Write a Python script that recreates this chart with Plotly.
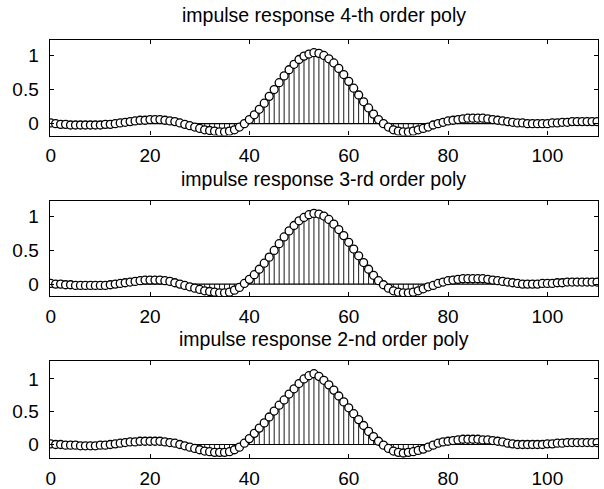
import plotly.graph_objects as go

n = list(range(0, 111))

h4 = [0.01, 0.00, -0.01, -0.01, -0.02, -0.02, -0.02, -0.02, -0.02, -0.02,
      -0.02, -0.01, -0.01, 0.00, 0.01, 0.02, 0.03, 0.04, 0.05, 0.05,
      0.06, 0.06, 0.06, 0.05, 0.04, 0.03, 0.01, -0.01, -0.03, -0.05,
      -0.07, -0.09, -0.10, -0.11, -0.12, -0.12, -0.11, -0.09, -0.05, 0.00,
      0.06, 0.13, 0.21, 0.30, 0.40, 0.50, 0.60, 0.70, 0.79, 0.87,
      0.94, 0.99, 1.02, 1.04, 1.03, 1.00, 0.95, 0.89, 0.81, 0.72,
      0.62, 0.52, 0.42, 0.32, 0.23, 0.14, 0.06, 0.00, -0.05, -0.09,
      -0.11, -0.12, -0.12, -0.11, -0.09, -0.07, -0.05, -0.02, 0.00, 0.02,
      0.04, 0.05, 0.06, 0.07, 0.08, 0.08, 0.08, 0.08, 0.07, 0.06,
      0.05, 0.04, 0.03, 0.02, 0.01, 0.01, 0.00, 0.00, 0.00, 0.00,
      0.00, 0.01, 0.01, 0.02, 0.02, 0.03, 0.03, 0.03, 0.03, 0.03, 0.03]

h3 = [0.01, 0.00, 0.00, -0.01, -0.01, -0.02, -0.02, -0.02, -0.02, -0.02,
      -0.02, -0.02, -0.01, 0.00, 0.01, 0.02, 0.03, 0.04, 0.05, 0.06,
      0.06, 0.06, 0.06, 0.05, 0.04, 0.02, 0.00, -0.02, -0.04, -0.06,
      -0.08, -0.10, -0.11, -0.12, -0.13, -0.13, -0.12, -0.09, -0.05, 0.01,
      0.07, 0.14, 0.22, 0.31, 0.40, 0.50, 0.60, 0.70, 0.79, 0.87,
      0.94, 0.99, 1.03, 1.05, 1.04, 1.01, 0.96, 0.89, 0.81, 0.72,
      0.62, 0.52, 0.42, 0.32, 0.22, 0.13, 0.05, -0.01, -0.06, -0.10,
      -0.12, -0.13, -0.13, -0.12, -0.10, -0.07, -0.04, -0.02, 0.01, 0.03,
      0.05, 0.06, 0.07, 0.08, 0.08, 0.08, 0.08, 0.08, 0.07, 0.06,
      0.05, 0.04, 0.03, 0.02, 0.01, 0.00, 0.00, 0.00, 0.00, 0.01,
      0.01, 0.01, 0.02, 0.02, 0.03, 0.03, 0.03, 0.03, 0.03, 0.03, 0.03]

h2 = [0.01, 0.00, 0.00, -0.01, -0.01, -0.01, -0.02, -0.02, -0.02, -0.02,
      -0.01, -0.01, 0.00, 0.01, 0.02, 0.03, 0.04, 0.04, 0.05, 0.05,
      0.05, 0.05, 0.05, 0.04, 0.03, 0.02, 0.00, -0.02, -0.04, -0.06,
      -0.08, -0.10, -0.11, -0.12, -0.12, -0.12, -0.11, -0.08, -0.04, 0.02,
      0.09, 0.17, 0.25, 0.33, 0.42, 0.51, 0.60, 0.68, 0.77, 0.85,
      0.93, 1.00, 1.05, 1.08, 1.04, 0.98, 0.91, 0.83, 0.74, 0.65,
      0.56, 0.47, 0.38, 0.29, 0.20, 0.12, 0.05, -0.01, -0.06, -0.10,
      -0.12, -0.13, -0.12, -0.11, -0.09, -0.07, -0.04, -0.01, 0.02, 0.04,
      0.05, 0.06, 0.07, 0.08, 0.08, 0.08, 0.08, 0.07, 0.07, 0.06,
      0.05, 0.04, 0.02, 0.01, 0.00, 0.00, 0.00, 0.00, 0.00, 0.00,
      0.01, 0.01, 0.02, 0.02, 0.03, 0.03, 0.03, 0.03, 0.03, 0.03, 0.03]

titles = ["impulse response 4-th order poly",
          "impulse response 3-rd order poly",
          "impulse response 2-nd order poly"]
series = [h4, h3, h2]

x_ticks = [0, 20, 40, 60, 80, 100]
y_ticks = [0, 0.5, 1]
y_tick_text = ["0", "0.5", "1"]

W, H = 604, 489
FONT = "Liberation Sans, Arial, sans-serif"

# pixel boxes (top, bottom) for each panel, and title centre rows
boxes = [(40, 137), (203, 299), (365, 463)]
title_rows = [15, 181, 342]
yranges = [[-0.175, 1.232], [-0.176, 1.235], [-0.21, 1.27]]
left_px, right_px = 46, 598
xrange_ = [-0.2, 110.2]

fig = go.Figure()
layout = dict(
    width=W, height=H, margin=dict(l=0, r=0, t=0, b=0),
    paper_bgcolor="white", plot_bgcolor="white", showlegend=False,
    font=dict(family=FONT, color="black"),
)
annotations = []
for i, (ys, title, (top, bot)) in enumerate(zip(series, titles, boxes)):
    k = "" if i == 0 else str(i + 1)
    xa, ya = "x" + k, "y" + k
    # stems
    sx, sy = [], []
    for xv, yv in zip(n, ys):
        sx += [xv, xv, None]
        sy += [0, yv, None]
    fig.add_trace(go.Scatter(x=sx, y=sy, mode="lines", xaxis=xa, yaxis=ya,
                             line=dict(color="black", width=0.9), hoverinfo="skip"))
    # baseline
    fig.add_trace(go.Scatter(x=[n[0], n[-1]], y=[0, 0], mode="lines", xaxis=xa, yaxis=ya,
                             line=dict(color="black", width=1.2), hoverinfo="skip"))
    # markers
    fig.add_trace(go.Scatter(x=n, y=ys, mode="markers", xaxis=xa, yaxis=ya,
                             marker=dict(symbol="circle", size=8, color="white",
                                         line=dict(color="black", width=1.3))))
    axis_common = dict(showline=True, linecolor="black", linewidth=1.2, mirror="allticks",
                       ticks="inside", ticklen=4, tickcolor="black", showgrid=False,
                       zeroline=False, tickfont=dict(family=FONT, size=19, color="black"))
    layout["xaxis" + k] = dict(domain=[left_px / W, right_px / W], range=xrange_,
                               tickvals=x_ticks, anchor=ya, ticklabelstandoff=3,
                               **axis_common)
    layout["yaxis" + k] = dict(domain=[1 - bot / H, 1 - top / H], range=yranges[i],
                               tickvals=y_ticks, ticktext=y_tick_text, anchor=xa,
                               ticklabelstandoff=6, **axis_common)
    annotations.append(dict(text=title, x=(left_px + right_px) / 2 / W,
                            y=1 - title_rows[i] / H,
                            xref="paper", yref="paper", xanchor="center", yanchor="middle",
                            showarrow=False, font=dict(family=FONT, size=19.5, color="black")))
layout["annotations"] = annotations
fig.update_layout(**layout)
fig.write_html("out.html")
